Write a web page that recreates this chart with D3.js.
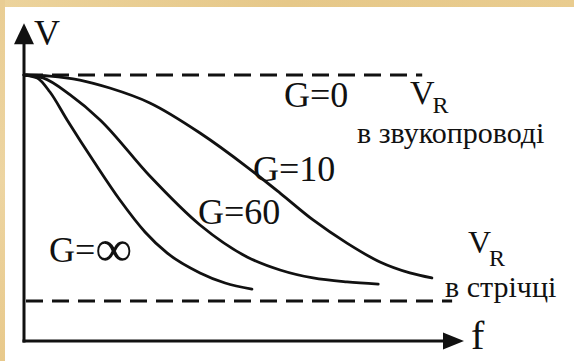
<!DOCTYPE html>
<html><head><meta charset="utf-8">
<script src="https://cdn.jsdelivr.net/npm/d3@7"></script>
<style>
html,body{margin:0;padding:0;background:#fff;}
svg{display:block;}
svg text{font-family:"Liberation Serif","Times New Roman",Times,"DejaVu Serif","Noto Serif",serif;}
</style>
</head><body>
<svg id="c" width="574" height="361"></svg>
<script>
// ---- data ----
const seriesNames = ["G=10", "G=60", "G=\u221E"];
const g10F = [0, 0.59, 1.27, 1.95, 2.86, 4.0, 5.07, 5.82, 6.57, 7.34, 8.09, 8.77, 9.27];
const g10V = [1.0, 0.996, 0.981, 0.951, 0.895, 0.782, 0.654, 0.556, 0.455, 0.368, 0.297, 0.256, 0.237];
const g60F = [0, 0.43, 1.05, 1.73, 2.86, 4.0, 5.07, 5.82, 6.57, 7.34, 8.05];
const g60V = [1.0, 0.989, 0.925, 0.831, 0.62, 0.436, 0.316, 0.267, 0.237, 0.222, 0.214];
const ginfF = [0, 0.30, 0.59, 0.98, 1.61, 2.18, 2.75, 3.25, 4.0, 4.57, 5.18];
const ginfV = [1.0, 0.989, 0.936, 0.831, 0.669, 0.530, 0.410, 0.331, 0.256, 0.218, 0.195];
const refLabels = ["в звукопроводі", "в стрічці"];
const refV = [1.0, 0.15];
const refEndF = [9.05, 9.73];
const axisLabels = ["V", "f"];

// ---- drawing ----
const svg = d3.select("#c");
const defs = svg.append("defs");
const gt = defs.append("linearGradient").attr("id","gt").attr("x1",0).attr("x2",1);
gt.append("stop").attr("offset","0").attr("stop-color","#ecd39c");
gt.append("stop").attr("offset","0.5").attr("stop-color","#e6c889");
gt.append("stop").attr("offset","1").attr("stop-color","#e9cc8f");
const gl = defs.append("linearGradient").attr("id","gl").attr("x1",0).attr("x2",0).attr("y1",0).attr("y2",1);
gl.append("stop").attr("offset","0").attr("stop-color","#e9cd93");
gl.append("stop").attr("offset","0.5").attr("stop-color","#edd5a2");
gl.append("stop").attr("offset","1").attr("stop-color","#e8c98b");

svg.append("rect").attr("width",574).attr("height",361).attr("fill","#fff");
svg.append("rect").attr("x",0).attr("y",0).attr("width",574).attr("height",7).attr("fill","url(#gt)");
svg.append("rect").attr("x",0).attr("y",0).attr("width",5).attr("height",361).attr("fill","url(#gl)");

const x = d3.scaleLinear().domain([0, 10]).range([24, 464]);
const y = d3.scaleLinear().domain([0, 1]).range([341, 75]);
const ink = "#111";

// axes
svg.append("line").attr("x1",x(0)).attr("x2",x(0)).attr("y1",y(0)+1.5).attr("y2",y(1.12))
  .attr("stroke",ink).attr("stroke-width",3);
svg.append("line").attr("x1",x(0)-1.5).attr("x2",x(9.6)).attr("y1",y(0)).attr("y2",y(0))
  .attr("stroke",ink).attr("stroke-width",3);
const yTip = y(1.195);
svg.append("path").attr("d",`M${x(0)},${yTip} L${x(0)-10},${yTip+21} L${x(0)+10},${yTip+21}Z`).attr("fill",ink);
const xTip = x(10);
svg.append("path").attr("d",`M${xTip},${y(0)} L${xTip-21},${y(0)-8.5} L${xTip-21},${y(0)+8.5}Z`).attr("fill",ink);

// reference dashed lines
refV.forEach((v,i)=>{
  svg.append("line").attr("x1",x(0)+2).attr("x2",x(refEndF[i])).attr("y1",y(v)).attr("y2",y(v))
    .attr("stroke",ink).attr("stroke-width",3).attr("stroke-dasharray","17,9");
});

// curves
const line = d3.line().x(d=>x(d[0])).y(d=>y(d[1])).curve(d3.curveMonotoneX);
[[g10F,g10V],[g60F,g60V],[ginfF,ginfV]].forEach(([fs,vs])=>{
  svg.append("path").datum(fs.map((f,i)=>[f,vs[i]])).attr("d",line)
    .attr("fill","none").attr("stroke",ink).attr("stroke-width",2.8).attr("stroke-linecap","round");
});

// text
function txt(px,py,s,size){
  return svg.append("text").attr("x",px).attr("y",py).text(s)
    .attr("font-size",size).attr("fill",ink);
}
txt(34,45,axisLabels[0],36);
txt(471,349,axisLabels[1],40);
txt(284,107,"G=0",36);
txt(253,181,seriesNames[0],36);
txt(198,224,seriesNames[1],36);
// G=∞
const ginf = svg.append("text").attr("x",49).attr("y",262).attr("font-size",36).attr("fill",ink);
ginf.append("tspan").text(seriesNames[2].slice(0,2));
ginf.append("tspan").attr("font-size",52).attr("dy",4).text(seriesNames[2].slice(2));
// V_R labels
function vr(px,py,size,subSize,dy){
  const t = svg.append("text").attr("x",px).attr("y",py).attr("font-size",size).attr("fill",ink);
  t.append("tspan").text("V");
  t.append("tspan").attr("font-size",subSize).attr("dx",-2).attr("dy",dy).text("R");
}
vr(410,104,34,24,9);
vr(468,253,32,24,13);
txt(357,143,refLabels[0],30);
txt(445,297,refLabels[1],30);
</script>
</body></html>
